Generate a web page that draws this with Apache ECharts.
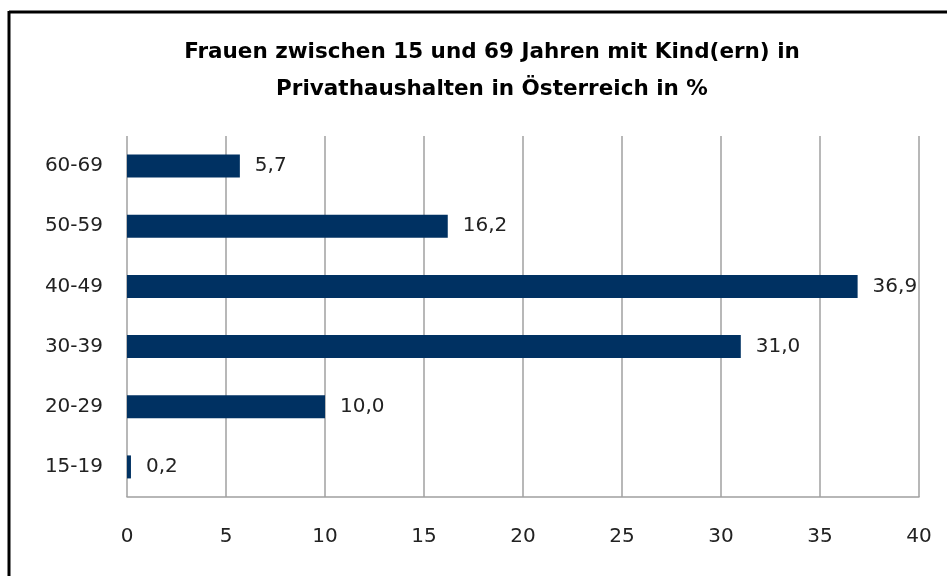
<!DOCTYPE html>
<html>
<head>
<meta charset="utf-8">
<script src="https://cdn.jsdelivr.net/npm/echarts@6/dist/echarts.min.js"></script>
<style>
html,body{margin:0;padding:0;background:#fff;}
#c{width:947px;height:576px;}
</style>
</head>
<body>
<div id="c"></div>
<script>
const categories = ['15-19','20-29','30-39','40-49','50-59','60-69'];
const values = [0.2, 10.0, 31.0, 36.9, 16.2, 5.7];
const xTicks = [0,5,10,15,20,25,30,35,40];
const titleText = 'Frauen zwischen 15 und 69 Jahren mit Kind(ern) in\nPrivathaushalten in Österreich in %';

const chart = echarts.init(document.getElementById('c'), null, {renderer:'canvas'});
const font = '"DejaVu Sans", sans-serif';
chart.setOption({
  animation:false,
  backgroundColor:'#fff',
  title:{
    text:titleText,
    left:487, top:29, textAlign:'center',
    textStyle:{fontFamily:font, fontWeight:'bold', fontSize:21.5, color:'#000', lineHeight:37}
  },
  grid:{left:127, right:28, top:136, bottom:79},
  xAxis:{
    type:'value', min:0, max:40, interval:5,
    axisLine:{show:true, lineStyle:{color:'#a0a0a0', width:1.5}},
    axisTick:{show:false},
    splitLine:{show:true, lineStyle:{color:'#a0a0a0', width:1.5}},
    axisLabel:{fontFamily:font, fontSize:20, color:'#222', margin:30,
      formatter:v=>xTicks.includes(v)?String(v):''}
  },
  yAxis:{
    type:'category', data:categories,
    axisLine:{show:false}, axisTick:{show:false},
    axisLabel:{fontFamily:font, fontSize:20, color:'#222', margin:24}
  },
  series:[{
    type:'bar', data:values, barWidth:23,
    itemStyle:{color:'#003162'},
    label:{show:true, position:'right', distance:15, fontFamily:font, fontSize:20, color:'#222',
      formatter:p=>p.value.toFixed(1).replace('.',',')}
  }],
  graphic:[
    {type:'line', shape:{x1:9, y1:12, x2:947, y2:12}, style:{stroke:'#000', lineWidth:3}},
    {type:'line', shape:{x1:9, y1:11, x2:9, y2:576}, style:{stroke:'#000', lineWidth:3}}
  ]
});
</script>
</body>
</html>
